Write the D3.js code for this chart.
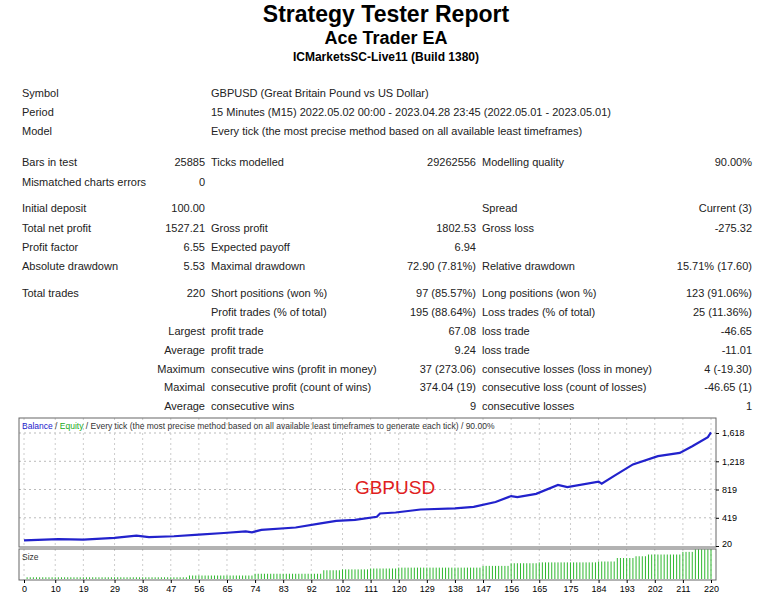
<!DOCTYPE html>
<html><head><meta charset="utf-8">
<script src="https://cdn.jsdelivr.net/npm/d3@7"></script>
<style>
body{margin:0;background:#fff}
text{font-family:"Liberation Sans",Arial,sans-serif}
</style></head><body>
<svg id="c" width="772" height="600"></svg>
<script>
// report rows: [label1, value1, label2, value2, label3, value3]
var rowY = [93,112,131, 162,182, 208,228,247,266, 293,312,331,350,369,387,406];
var rows = [
  ["Symbol","","GBPUSD (Great Britain Pound vs US Dollar)","","",""],
  ["Period","","15 Minutes (M15) 2022.05.02 00:00 - 2023.04.28 23:45 (2022.05.01 - 2023.05.01)","","",""],
  ["Model","","Every tick (the most precise method based on all available least timeframes)","","",""],
  ["Bars in test","25885","Ticks modelled","29262556","Modelling quality","90.00%"],
  ["Mismatched charts errors","0","","","",""],
  ["Initial deposit","100.00","","","Spread","Current (3)"],
  ["Total net profit","1527.21","Gross profit","1802.53","Gross loss","-275.32"],
  ["Profit factor","6.55","Expected payoff","6.94","",""],
  ["Absolute drawdown","5.53","Maximal drawdown","72.90 (7.81%)","Relative drawdown","15.71% (17.60)"],
  ["Total trades","220","Short positions (won %)","97 (85.57%)","Long positions (won %)","123 (91.06%)"],
  ["","","Profit trades (% of total)","195 (88.64%)","Loss trades (% of total)","25 (11.36%)"],
  ["","Largest","profit trade","67.08","loss trade","-46.65"],
  ["","Average","profit trade","9.24","loss trade","-11.01"],
  ["","Maximum","consecutive wins (profit in money)","37 (273.06)","consecutive losses (loss in money)","4 (-19.30)"],
  ["","Maximal","consecutive profit (count of wins)","374.04 (19)","consecutive loss (count of losses)","-46.65 (1)"],
  ["","Average","consecutive wins","9","consecutive losses","1"]
];

// balance curve: [trade #, balance]
var tradeNo = [0,11,19,29,36,40,48,56,64,71,73,76,87,95,100,106,113,114,119,127,138,144,151,156,158,164,171,174,184,185,189,195,203,210,214,219,220];
var balance = [100,118,110,134,166,146,158,180,204,226,214,248,282,340,374,390,434,480,494,536,552,574,642,726,712,758,884,852,930,900,1012,1174,1290,1336,1430,1560,1627];

// lot size steps: [from trade #, size]
var sizeFrom = [0,53,74,96,102,111,120,147,156,165,184,190,196,200,211,215];
var sizeVal  = [0.01,0.02,0.03,0.05,0.055,0.06,0.065,0.075,0.09,0.095,0.10,0.12,0.13,0.14,0.155,0.17];

var yTicks = [20,419,819,1218,1618];
var xTicks = [0,10,19,29,38,47,56,65,74,83,92,102,111,120,129,138,147,156,165,175,184,193,202,211,220];

var svg = d3.select("#c");
var serif = "'Liberation Serif','DejaVu Serif',serif";
svg.append("text").attr("x",386).attr("y",22).attr("text-anchor","middle").attr("font-family",serif)
  .attr("font-weight","bold").attr("font-size",23).text("Strategy Tester Report");
svg.append("text").attr("x",386).attr("y",44).attr("text-anchor","middle").attr("font-family",serif)
  .attr("font-weight","bold").attr("font-size",18).text("Ace Trader EA");
svg.append("text").attr("x",386).attr("y",61).attr("text-anchor","middle").attr("font-family",serif)
  .attr("font-weight","bold").attr("font-size",12).text("ICMarketsSC-Live11 (Build 1380)");

// table
var cols = [{x:22,a:"start"},{x:205,a:"end"},{x:211,a:"start"},{x:476,a:"end"},{x:482,a:"start"},{x:752,a:"end"}];
rows.forEach(function(r,i){
  r.forEach(function(t,j){
    if(!t) return;
    svg.append("text").attr("x",cols[j].x).attr("y",rowY[i]+4).attr("text-anchor",cols[j].a)
      .attr("font-size",11).attr("fill","#222").text(t);
  });
});

// chart frame
var L=19, R=716, T=418, B=546, sT=549, sB=580;
var x = d3.scaleLinear().domain([0,220]).range([24,711]);
var y = d3.scaleLinear().domain([20,1618]).range([546,433]);
var ys = d3.scaleLinear().domain([0,0.2]).range([sB-1,sB-36]);

var g = svg.append("g");
g.selectAll(".hg").data(yTicks.slice(1)).enter().append("line")
  .attr("x1",L).attr("x2",R).attr("y1",function(d){return y(d);}).attr("y2",function(d){return y(d);})
  .attr("stroke","#bbb").attr("stroke-dasharray","2,3");
g.selectAll(".vg").data(xTicks).enter().append("line")
  .attr("x1",function(d){return x(d);}).attr("x2",function(d){return x(d);}).attr("y1",T).attr("y2",B)
  .attr("stroke","#ccc").attr("stroke-dasharray","2,3");
g.selectAll(".vg2").data(xTicks).enter().append("line")
  .attr("x1",function(d){return x(d);}).attr("x2",function(d){return x(d);}).attr("y1",sT).attr("y2",sB)
  .attr("stroke","#ccc").attr("stroke-dasharray","2,3");

// size bars
var trades = d3.range(1,221);
function sizeAt(t){ var v=sizeVal[0]; sizeFrom.forEach(function(f,i){ if(t>=f) v=sizeVal[i]; }); return v; }
g.selectAll(".bar").data(trades).enter().append("line")
  .attr("x1",function(d){return x(d);}).attr("x2",function(d){return x(d);})
  .attr("y1",ys(0)).attr("y2",function(d){return ys(sizeAt(d));})
  .attr("stroke","#2eb82e").attr("stroke-width",1);

var line = d3.line().x(function(d,i){return x(tradeNo[i]);}).y(function(d){return y(d);});
g.append("path").datum(balance).attr("d",line).attr("fill","none").attr("stroke","#22c","stroke-width"==0?1:1)
  .attr("stroke-width",2.2);

g.append("rect").attr("x",L).attr("y",T).attr("width",R-L).attr("height",B-T+1).attr("fill","none").attr("stroke","#666");
g.append("rect").attr("x",L).attr("y",sT).attr("width",R-L).attr("height",sB-sT).attr("fill","none").attr("stroke","#666");

// axes
var yAxis = d3.axisRight(y).tickValues(yTicks).tickSize(3);
var ya = svg.append("g").attr("transform","translate("+R+",0)").call(yAxis);
ya.select(".domain").remove();
ya.selectAll("text").attr("font-size",9).attr("font-family","Liberation Sans").attr("dy","0.32em");
ya.selectAll("text").filter(function(d){return d===20;}).attr("dy","0.1em");
var xAxis = d3.axisBottom(x).tickValues(xTicks).tickSize(3);
var xa = svg.append("g").attr("transform","translate(0,"+sB+")").call(xAxis);
xa.select(".domain").remove();
xa.selectAll("text").attr("font-size",9).attr("font-family","Liberation Sans");

var hdr = svg.append("text").attr("x",22).attr("y",429).attr("font-size",8.5);
hdr.append("tspan").attr("fill","#22c").text("Balance");
hdr.append("tspan").attr("fill","#333").text(" / ");
hdr.append("tspan").attr("fill","#2a2").text("Equity");
hdr.append("tspan").attr("fill","#333").text(" / Every tick (the most precise method based on all available least timeframes to generate each tick) / 90.00%");
svg.append("text").attr("x",22).attr("y",560).attr("font-size",8.5).attr("fill","#333").text("Size");
svg.append("text").attr("x",395).attr("y",494).attr("text-anchor","middle").attr("font-size",19).attr("fill","#e02020").text("GBPUSD");
</script></body></html>
